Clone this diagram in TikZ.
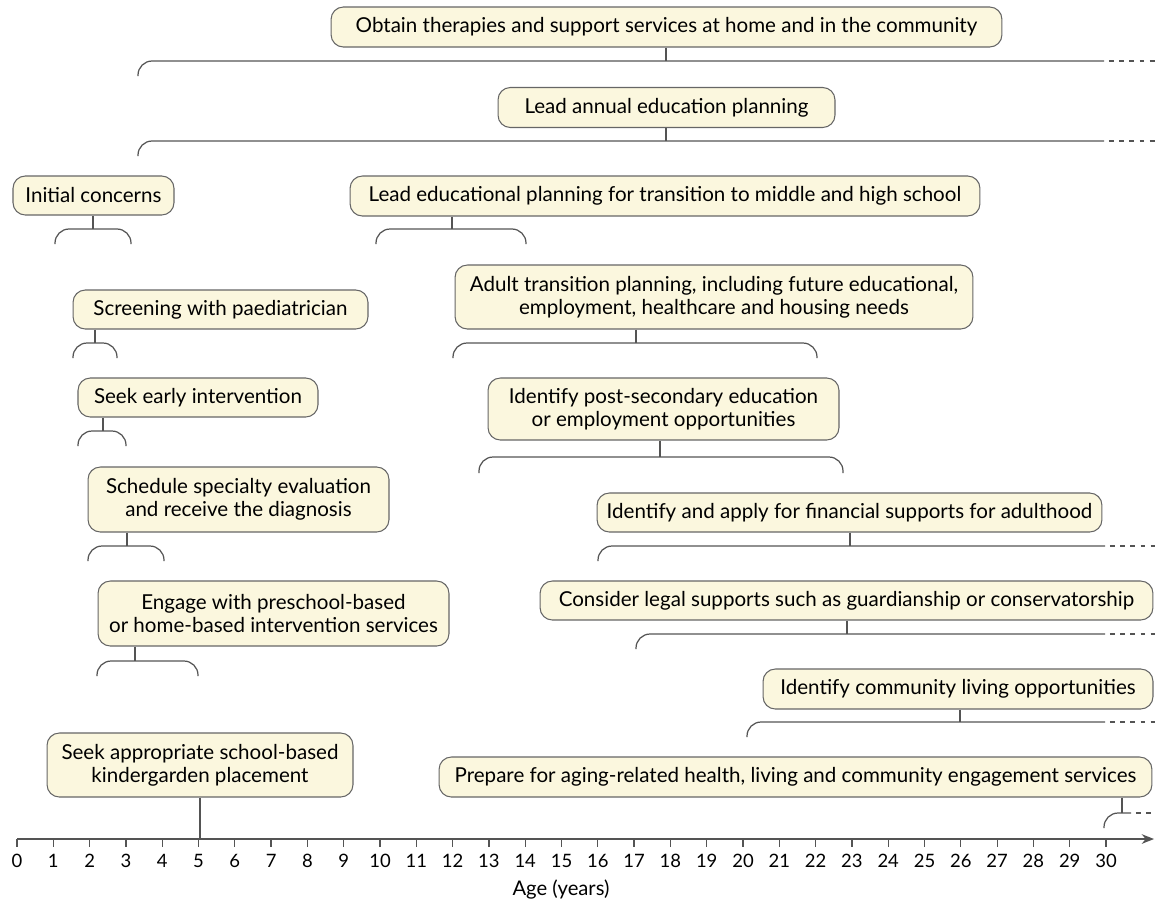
\documentclass[tikz,border=0pt]{standalone}
\usepackage{fontspec}
\setmainfont{Lato}
\usepackage{tikz}
\usetikzlibrary{arrows.meta}
\definecolor{taskFill}{RGB}{251,247,222}
\definecolor{taskGray}{gray}{0.40}
\definecolor{lineGray}{gray}{0.33}

\begin{document}
\begin{tikzpicture}[x=0.02cm, y=-0.02cm, >=Stealth,
    task/.style={draw=taskGray, fill=taskFill, rounded corners=7pt, line width=0.6pt,
        align=center, inner sep=0pt, font=\fontsize{11.7}{13}\selectfont},
    link/.style={lineGray, line width=0.7pt},
    brace/.style={lineGray, line width=0.7pt, rounded corners=8pt},
    more/.style={lineGray, line width=0.7pt, dash pattern=on 2.8pt off 3pt, dash phase=3pt}]
    \useasboundingbox (0,0) rectangle (1155,904);

    % tasks, sizes in px of the 1155 x 904 frame
    \node[task, minimum width=13.42cm, minimum height=0.80cm] (obtain) at (666.5,27) {Obtain therapies and support services at home and in the community};
    \node[task, minimum width=6.74cm, minimum height=0.80cm] (annual) at (666.5,107.5) {Lead annual education planning};
    \node[task, minimum width=3.22cm, minimum height=0.78cm] (initial) at (93.5,195.5) {Initial concerns};
    \node[task, minimum width=12.60cm, minimum height=0.80cm] (transit) at (665,196) {Lead educational planning for transition to middle and high school};
    \node[task, minimum width=5.90cm, minimum height=0.78cm] (screen) at (220.5,309.5) {Screening with paediatrician};
    \node[task, minimum width=10.36cm, minimum height=1.28cm] (adult) at (714,297) {Adult transition planning, including future educational,\\employment, healthcare and housing needs};
    \node[task, minimum width=4.80cm, minimum height=0.78cm] (early) at (198,397.5) {Seek early intervention};
    \node[task, minimum width=7.02cm, minimum height=1.24cm] (postsec) at (663.5,409) {Identify post-secondary education\\or employment opportunities};
    \node[task, minimum width=6.02cm, minimum height=1.30cm] (diagnose) at (238.5,499.5) {Schedule specialty evaluation\\and receive the diagnosis};
    \node[task, minimum width=10.10cm, minimum height=0.78cm] (finance) at (849.5,512.5) {Identify and apply for financial supports for adulthood};
    \node[task, minimum width=7.02cm, minimum height=1.30cm] (preschool) at (273.5,613.5) {Engage with preschool-based\\or home-based intervention services};
    \node[task, minimum width=12.26cm, minimum height=0.78cm] (legal) at (846.5,600.5) {Consider legal supports such as guardianship or conservatorship};
    \node[task, minimum width=7.80cm, minimum height=0.80cm] (living) at (958,689) {Identify community living opportunities};
    \node[task, minimum width=6.12cm, minimum height=1.28cm] (kinder) at (200,765) {Seek appropriate school-based\\kindergarden placement};
    \node[task, minimum width=14.26cm, minimum height=0.80cm] (aging) at (795.5,777) {Prepare for aging-related health, living and community engagement services};

    % open-ended spans (run on past 30)
    \coordinate (obtainB) at (666,61);
    \draw[link] (obtain.south -| obtainB) -- (obtainB);
    \draw[brace] (138,76) |- (1104,61);
    \draw[more] (1104,61) -- (1155,61);

    \coordinate (annualB) at (666,141);
    \draw[link] (annual.south -| annualB) -- (annualB);
    \draw[brace] (138,156) |- (1104,141);
    \draw[more] (1104,141) -- (1155,141);

    \coordinate (financeB) at (850,546);
    \draw[link] (finance.south -| financeB) -- (financeB);
    \draw[brace] (598,561) |- (1105,546);
    \draw[more] (1105,546) -- (1155,546);

    \coordinate (legalB) at (847,634);
    \draw[link] (legal.south -| legalB) -- (legalB);
    \draw[brace] (636,649) |- (1105,634);
    \draw[more] (1105,634) -- (1155,634);

    \coordinate (livingB) at (960,722);
    \draw[link] (living.south -| livingB) -- (livingB);
    \draw[brace] (747,737) |- (1105,722);
    \draw[more] (1105,722) -- (1155,722);

    \coordinate (agingB) at (1122,813);
    \draw[link] (aging.south -| agingB) -- (agingB);
    \draw[brace] (1104,828) |- (1131,813);
    \draw[more] (1131,813) -- (1155,813);

    % closed spans
    \coordinate (initialB) at (93,229);
    \draw[link] (initial.south -| initialB) -- (initialB);
    \draw[brace] (55,244) -- (55,229) -- (131,229) -- (131,244);

    \coordinate (transitB) at (452,229);
    \draw[link] (transit.south -| transitB) -- (transitB);
    \draw[brace] (376,244) -- (376,229) -- (526,229) -- (526,244);

    \coordinate (screenB) at (95,343);
    \draw[link] (screen.south -| screenB) -- (screenB);
    \draw[brace] (73,358) -- (73,343) -- (117,343) -- (117,358);

    \coordinate (adultB) at (636,343);
    \draw[link] (adult.south -| adultB) -- (adultB);
    \draw[brace] (453,358) -- (453,343) -- (817,343) -- (817,358);

    \coordinate (earlyB) at (103,431);
    \draw[link] (early.south -| earlyB) -- (earlyB);
    \draw[brace] (78,446) -- (78,431) -- (126,431) -- (126,446);

    \coordinate (postsecB) at (660,457);
    \draw[link] (postsec.south -| postsecB) -- (postsecB);
    \draw[brace] (479,473) -- (479,457) -- (843,457) -- (843,473);

    \coordinate (diagnoseB) at (127,546);
    \draw[link] (diagnose.south -| diagnoseB) -- (diagnoseB);
    \draw[brace] (88,561) -- (88,546) -- (164,546) -- (164,561);

    \coordinate (preschoolB) at (135,661);
    \draw[link] (preschool.south -| preschoolB) -- (preschoolB);
    \draw[brace] (97,676) -- (97,661) -- (198,661) -- (198,676);

    % age axis
    \coordinate (start) at (17,839);
    \coordinate (tip) at (1154,839);
    \draw[link, -{Stealth[length=7pt, width=5.5pt]}] (start) -- (tip);
    \foreach \a in {0,...,30} {
        \draw[link] (17+36.3*\a,839) -- (17+36.3*\a,847);
        \node[font=\fontsize{10.5}{12}\selectfont] (t\a) at (17+36.3*\a,861) {\a};
    }
    \coordinate (kinderB) at (200,839);
    \draw[link] (kinder.south -| kinderB) -- (kinderB);
    \node[font=\fontsize{11.5}{13}\selectfont] (agelabel) at (561,889) {Age (years)};
\end{tikzpicture}
\end{document}
